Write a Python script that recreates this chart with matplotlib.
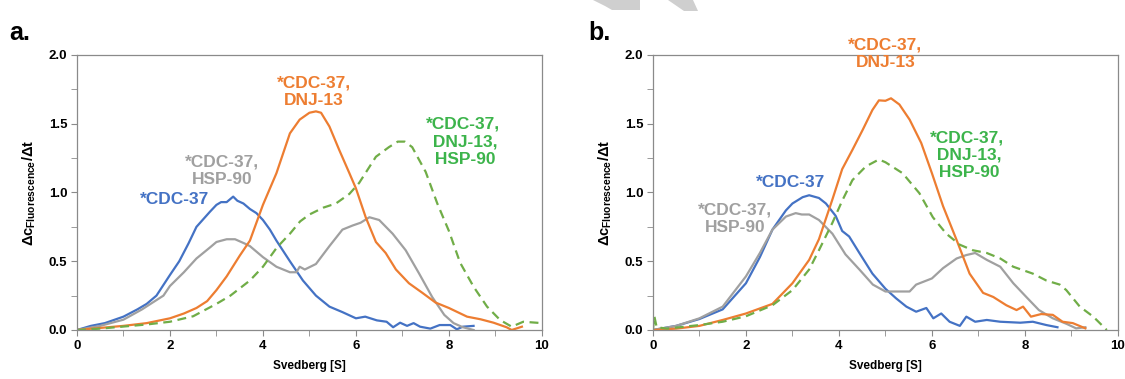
import matplotlib
matplotlib.use('Agg')
import matplotlib.pyplot as plt
from matplotlib.patches import Polygon
from matplotlib.ticker import MultipleLocator

plt.rcParams['font.family'] = ['Liberation Sans', 'DejaVu Sans']
plt.rcParams['font.weight'] = 'bold'
plt.rcParams['mathtext.fontset'] = 'custom'
plt.rcParams['mathtext.rm'] = 'Liberation Sans:bold'
plt.rcParams['mathtext.it'] = 'Liberation Sans:bold'
plt.rcParams['mathtext.bf'] = 'Liberation Sans:bold'

# ---- panel a data ----
blue_a_x = [0, 0.3, 0.6, 1.0, 1.3, 1.5, 1.71, 2.0, 2.2, 2.4, 2.57, 2.86, 3.0, 3.1, 3.22, 3.36, 3.45,
            3.58, 3.72, 3.86, 4.0, 4.15, 4.29, 4.58, 4.86, 5.14, 5.43, 5.71, 6.0, 6.2, 6.45, 6.66,
            6.8, 6.95, 7.1, 7.24, 7.38, 7.6, 7.8, 8.03, 8.17, 8.3, 8.53]
blue_a_y = [0, 0.03, 0.05, 0.097, 0.15, 0.19, 0.25, 0.40, 0.5, 0.63, 0.75, 0.86, 0.91, 0.93, 0.93, 0.97, 0.94,
            0.92, 0.88, 0.85, 0.80, 0.73, 0.65, 0.50, 0.36, 0.25, 0.17, 0.13, 0.085, 0.097, 0.07, 0.06,
            0.02, 0.053, 0.03, 0.05, 0.024, 0.01, 0.036, 0.036, 0.005, 0.024, 0.03]

grey_a_x = [0, 0.5, 1.0, 1.4, 1.86, 2.0, 2.3, 2.57, 2.86, 3.0, 3.22, 3.4, 3.6, 3.72, 4.0, 4.29, 4.58,
            4.72, 4.79, 4.9, 5.14, 5.43, 5.71, 5.93, 6.1, 6.29, 6.5, 6.79, 7.07, 7.36, 7.64, 7.9,
            8.1, 8.3, 8.53]
grey_a_y = [0, 0.03, 0.075, 0.15, 0.25, 0.32, 0.42, 0.52, 0.60, 0.64, 0.66, 0.66, 0.63, 0.61, 0.53, 0.46, 0.42,
            0.42, 0.46, 0.44, 0.48, 0.61, 0.73, 0.76, 0.78, 0.82, 0.80, 0.70, 0.58, 0.41, 0.24, 0.11,
            0.05, 0.02, 0.0]

orange_a_x = [0, 0.5, 1.0, 1.5, 2.0, 2.3, 2.57, 2.8, 3.0, 3.22, 3.5, 3.72, 3.86, 4.0, 4.29, 4.58, 4.79,
              5.0, 5.14, 5.25, 5.43, 5.64, 5.86, 6.0, 6.21, 6.43, 6.64, 6.86, 7.14, 7.43, 7.71, 8.0,
              8.39, 8.68, 8.96, 9.24, 9.35, 9.57]
orange_a_y = [0, 0.015, 0.03, 0.05, 0.085, 0.12, 0.16, 0.21, 0.29, 0.39, 0.54, 0.65, 0.78, 0.91, 1.14, 1.43, 1.53,
              1.58, 1.59, 1.58, 1.48, 1.31, 1.14, 1.03, 0.82, 0.64, 0.56, 0.44, 0.34, 0.27, 0.20, 0.16,
              0.097, 0.078, 0.053, 0.02, 0.0, 0.024]

green_a_x = [0, 0.5, 1.0, 1.5, 2.0, 2.5, 3.0, 3.3, 3.72, 4.0, 4.3, 4.58, 4.8, 5.0, 5.3, 5.57, 5.86,
             6.07, 6.43, 6.71, 6.9, 7.05, 7.21, 7.5, 7.75, 8.0, 8.24, 8.53, 8.82, 9.1, 9.35, 9.6, 10.0]
green_a_y = [0, 0.01, 0.025, 0.04, 0.06, 0.1, 0.19, 0.25, 0.36, 0.46, 0.6, 0.70, 0.79, 0.84, 0.89, 0.92, 0.99,
             1.07, 1.26, 1.33, 1.37, 1.37, 1.33, 1.15, 0.92, 0.72, 0.49, 0.315, 0.17, 0.073, 0.024, 0.06, 0.05]

# ---- panel b data ----
blue_b_x = [0, 0.5, 1.0, 1.5, 2.0, 2.3, 2.57, 2.86, 3.0, 3.22, 3.36, 3.57, 3.72, 3.93, 4.07, 4.22, 4.44,
            4.72, 5.0, 5.23, 5.45, 5.66, 5.88, 6.03, 6.2, 6.38, 6.6, 6.74, 6.93, 7.18, 7.47, 7.9,
            8.17, 8.46, 8.7]
blue_b_y = [0, 0.03, 0.08, 0.15, 0.34, 0.53, 0.73, 0.87, 0.92, 0.966, 0.98, 0.96, 0.92, 0.83, 0.72, 0.68, 0.56,
            0.41, 0.30, 0.23, 0.17, 0.133, 0.16, 0.085, 0.12, 0.06, 0.03, 0.097, 0.06, 0.073, 0.06, 0.053,
            0.06, 0.036, 0.02]

grey_b_x = [0, 0.5, 1.0, 1.5, 2.0, 2.3, 2.57, 2.86, 3.07, 3.2, 3.36, 3.57, 3.86, 4.14, 4.44, 4.73, 5.0,
            5.23, 5.52, 5.66, 6.0, 6.24, 6.53, 6.74, 6.93, 7.18, 7.47, 7.75, 8.03, 8.3, 8.6, 8.9,
            9.1, 9.3]
grey_b_y = [0, 0.03, 0.085, 0.17, 0.39, 0.56, 0.73, 0.825, 0.85, 0.84, 0.84, 0.80, 0.70, 0.55, 0.44, 0.33, 0.28,
            0.28, 0.28, 0.33, 0.375, 0.45, 0.52, 0.545, 0.56, 0.51, 0.46, 0.34, 0.24, 0.145, 0.085, 0.044,
            0.012, 0.02]

orange_b_x = [0, 0.5, 1.0, 1.5, 2.0, 2.57, 3.0, 3.36, 3.57, 3.86, 4.07, 4.29, 4.51, 4.72, 4.86, 5.0, 5.12,
              5.3, 5.52, 5.77, 6.0, 6.24, 6.53, 6.81, 7.1, 7.32, 7.6, 7.82, 7.96, 8.13, 8.35, 8.6,
              8.81, 9.03, 9.3]
orange_b_y = [0, 0.01, 0.03, 0.073, 0.12, 0.19, 0.34, 0.51, 0.66, 0.95, 1.17, 1.31, 1.455, 1.60, 1.67, 1.667, 1.685,
              1.64, 1.53, 1.36, 1.14, 0.90, 0.655, 0.41, 0.27, 0.24, 0.18, 0.145, 0.17, 0.097, 0.116, 0.11,
              0.06, 0.05, 0.012]

green_b_x = [0, 0.03, 0.08, 0.3, 1.0, 1.5, 2.0, 2.57, 3.0, 3.36, 3.57, 3.86, 4.07, 4.29, 4.58, 4.86, 5.0,
             5.37, 5.73, 6.02, 6.31, 6.6, 6.88, 7.18, 7.47, 7.75, 8.17, 8.46, 8.75, 8.89, 9.18, 9.47, 9.76]
green_b_y = [0, 0.1, 0.02, 0.01, 0.036, 0.06, 0.1, 0.18, 0.29, 0.44, 0.58, 0.78, 0.94, 1.09, 1.19, 1.24, 1.22,
             1.14, 0.995, 0.82, 0.70, 0.62, 0.58, 0.56, 0.52, 0.46, 0.41, 0.36, 0.33, 0.29, 0.17, 0.097, 0.0]

BLUE, GREY, ORANGE, GREEN = '#4472C4', '#A0A0A0', '#ED7D31', '#70AD47'
GREEN_TXT = '#3CB44B'

fig = plt.figure(figsize=(11.25, 3.79), dpi=100)
ax_a = fig.add_axes([0.0684, 0.1293, 0.4133, 0.7256])
ax_b = fig.add_axes([0.5804, 0.1293, 0.4133, 0.7256])


def style(ax):
    ax.set_xlim(0, 10)
    ax.set_ylim(0, 2.0)
    ax.xaxis.set_major_locator(MultipleLocator(2))
    ax.xaxis.set_minor_locator(MultipleLocator(1))
    ax.yaxis.set_minor_locator(MultipleLocator(0.25))
    ax.set_yticks([0, 0.5, 1.0, 1.5, 2.0], ['0.0', '0.5', '1.0', '1.5', '2.0'])
    for s in ax.spines.values():
        s.set_color('#8a8a8a')
        s.set_linewidth(0.9)
    ax.tick_params(which='both', direction='out', color='#8a8a8a', length=4, labelsize=9.5, pad=3)
    for lab in ax.get_xticklabels() + ax.get_yticklabels():
        lab.set_fontweight('bold')
    ax.set_xlabel('Svedberg [S]', fontsize=8.5, fontweight='bold', labelpad=6)
    ax.set_ylabel(r'$\Delta c_{\mathrm{Fluorescence}}/\Delta t$', fontsize=10.5, labelpad=8)


def draw(ax, bx, by, gx, gy, ox, oy, grx, gry):
    ax.plot(bx, by, color=BLUE, lw=1.6)
    ax.plot(gx, gy, color=GREY, lw=1.6)
    ax.plot(ox, oy, color=ORANGE, lw=1.6)
    ax.plot(grx, gry, color=GREEN, lw=1.6, dashes=(4, 2.5))


style(ax_a)
style(ax_b)
draw(ax_a, blue_a_x, blue_a_y, grey_a_x, grey_a_y, orange_a_x, orange_a_y, green_a_x, green_a_y)
draw(ax_b, blue_b_x, blue_b_y, grey_b_x, grey_b_y, orange_b_x, orange_b_y, green_b_x, green_b_y)

fs = 12.5
kw = dict(ha='center', va='center', fontsize=fs, fontweight='bold', linespacing=1.2)
ax_a.text(2.1, 0.95, '*CDC-37', color=BLUE, **kw)
ax_a.text(3.12, 1.16, '*CDC-37,\nHSP-90', color=GREY, **kw)
ax_a.text(5.1, 1.73, '*CDC-37,\nDNJ-13', color=ORANGE, **kw)
ax_a.text(8.3, 1.37, '*CDC-37,\n DNJ-13,\n HSP-90', color=GREEN_TXT, **kw)

ax_b.text(2.95, 1.07, '*CDC-37', color=BLUE, **kw)
ax_b.text(1.76, 0.81, '*CDC-37,\nHSP-90', color=GREY, **kw)
ax_b.text(5.0, 2.01, '*CDC-37,\nDNJ-13', color=ORANGE, clip_on=False, **kw)
ax_b.text(6.75, 1.27, '*CDC-37,\n DNJ-13,\n HSP-90', color=GREEN_TXT, **kw)

fig.text(0.008, 0.895, 'a.', fontsize=18, fontweight='bold')
fig.text(0.523, 0.895, 'b.', fontsize=18, fontweight='bold')

# faint watermark fragments at the top edge
W, H = 1125, 379
for pts in ([(593, 0), (640, 0), (640, 10), (612, 10), (605, 6)],
            [(668, 0), (693, 0), (698, 11), (684, 11)]):
    fig.add_artist(Polygon([(x / W, 1 - y / H) for x, y in pts], closed=True,
                           transform=fig.transFigure, color='#cfcfcf', lw=0))

fig.savefig('out.png', dpi=100)
